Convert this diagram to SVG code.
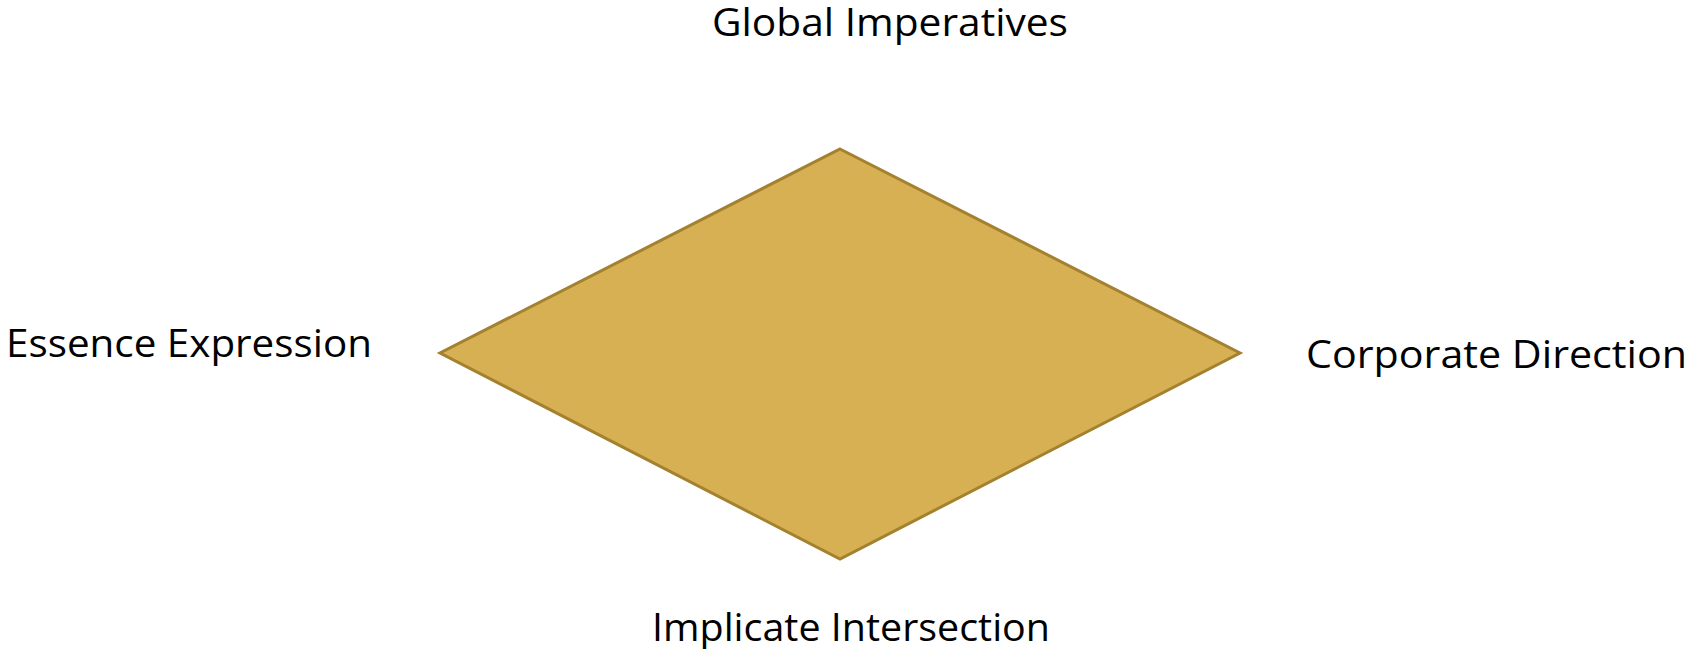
<svg xmlns="http://www.w3.org/2000/svg" width="1689" height="649" viewBox="0 0 1689 649">
<style>
.lbl{font-family:"Open Sans","Liberation Sans",sans-serif;font-size:39px;fill:#000;}
.dia{fill:#D7B053;stroke:#A3812F;stroke-width:3;stroke-linejoin:miter;}
</style>
<rect width="1689" height="649" fill="#fff"/>
<g id="diamond">
<polygon class="dia" points="840,149 1240,353 840,559 440,353"/>
</g>
<g id="label-top"><text class="lbl" x="712" y="36" textLength="356" lengthAdjust="spacingAndGlyphs">Global Imperatives</text></g>
<g id="label-left"><text class="lbl" x="6" y="357" textLength="366" lengthAdjust="spacingAndGlyphs">Essence Expression</text></g>
<g id="label-right"><text class="lbl" x="1306" y="368" textLength="381" lengthAdjust="spacingAndGlyphs">Corporate Direction</text></g>
<g id="label-bottom"><text class="lbl" x="652" y="641" textLength="398" lengthAdjust="spacingAndGlyphs">Implicate Intersection</text></g>
<g id="connectors"></g>
</svg>
